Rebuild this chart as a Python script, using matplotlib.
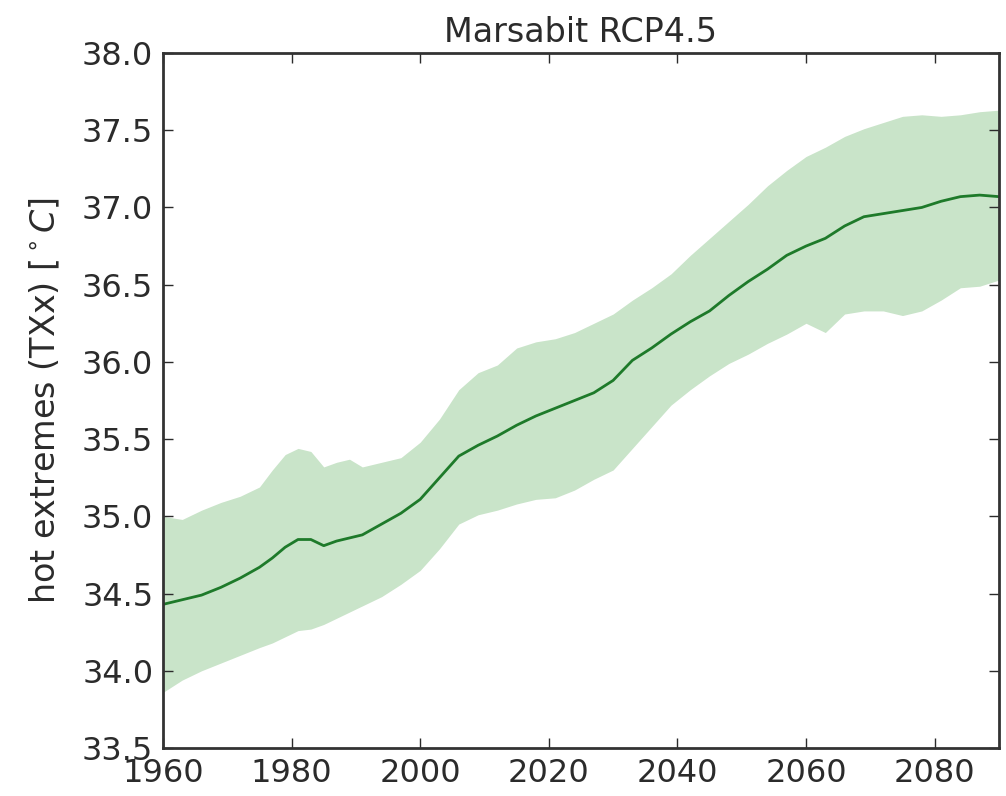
import numpy as np
import matplotlib
matplotlib.use("Agg")
import matplotlib.pyplot as plt

# values (TXx ensemble, Marsabit, RCP4.5)
years = [1960, 1963, 1966, 1969, 1972, 1975, 1977, 1979, 1981, 1983,
         1985, 1987, 1989, 1991, 1994, 1997, 2000, 2003, 2006, 2009,
         2012, 2015, 2018, 2021, 2024, 2027, 2030, 2033, 2036, 2039,
         2042, 2045, 2048, 2051, 2054, 2057, 2060, 2063, 2066, 2069,
         2072, 2075, 2078, 2081, 2084, 2087, 2090]

txx_mean = [34.43, 34.46, 34.49, 34.54, 34.60, 34.67, 34.73, 34.80, 34.85, 34.85,
            34.81, 34.84, 34.86, 34.88, 34.95, 35.02, 35.11, 35.25, 35.39, 35.46,
            35.52, 35.59, 35.65, 35.70, 35.75, 35.80, 35.88, 36.01, 36.09, 36.18,
            36.26, 36.33, 36.43, 36.52, 36.60, 36.69, 36.75, 36.80, 36.88, 36.94,
            36.96, 36.98, 37.00, 37.04, 37.07, 37.08, 37.07]

txx_upper = [35.00, 34.98, 35.04, 35.09, 35.13, 35.19, 35.30, 35.40, 35.44, 35.42,
             35.32, 35.35, 35.37, 35.32, 35.35, 35.38, 35.48, 35.63, 35.82, 35.93,
             35.98, 36.09, 36.13, 36.15, 36.19, 36.25, 36.31, 36.40, 36.48, 36.57,
             36.69, 36.80, 36.91, 37.02, 37.14, 37.24, 37.33, 37.39, 37.46, 37.51,
             37.55, 37.59, 37.60, 37.59, 37.60, 37.62, 37.63]

txx_lower = [33.86, 33.94, 34.00, 34.05, 34.10, 34.15, 34.18, 34.22, 34.26, 34.27,
             34.30, 34.34, 34.38, 34.42, 34.48, 34.56, 34.65, 34.79, 34.95, 35.01,
             35.04, 35.08, 35.11, 35.12, 35.17, 35.24, 35.30, 35.44, 35.58, 35.72,
             35.82, 35.91, 35.99, 36.05, 36.12, 36.18, 36.25, 36.19, 36.31, 36.33,
             36.33, 36.30, 36.33, 36.40, 36.48, 36.49, 36.53]

txt_col = '#2b2b2b'
plt.rcParams['font.family'] = ['DejaVu Sans']
plt.rcParams['font.size'] = 23
plt.rcParams['text.color'] = txt_col
plt.rcParams['axes.labelcolor'] = txt_col

fig = plt.figure(figsize=(10.06, 7.96), dpi=100)
ax = fig.add_axes([0.162, 0.0603, 0.831, 0.8731])

ax.fill_between(years, txx_lower, txx_upper, color='g', alpha=0.21, linewidth=0)
ax.plot(years, txx_mean, color='#1e7a2a', linewidth=2)

ax.set_xlim(1960, 2090)
ax.set_ylim(33.5, 38.0)
ax.set_xticks(np.arange(1960, 2081, 20))
ax.set_yticks(np.arange(33.5, 38.01, 0.5))
ax.yaxis.set_major_formatter(matplotlib.ticker.FormatStrFormatter('%.1f'))

ax.tick_params(direction='in', top=True, right=True, length=7, width=1,
               labelsize=23, colors=txt_col, pad=7)
for sp in ax.spines.values():
    sp.set_linewidth(2)
    sp.set_color('#333333')

ax.set_title('Marsabit RCP4.5', fontsize=24, pad=8)
ax.set_ylabel(r'hot extremes (TXx) [$^\circ C$]', fontsize=24, labelpad=14)

fig.savefig('out.png', dpi=100, facecolor='white')
